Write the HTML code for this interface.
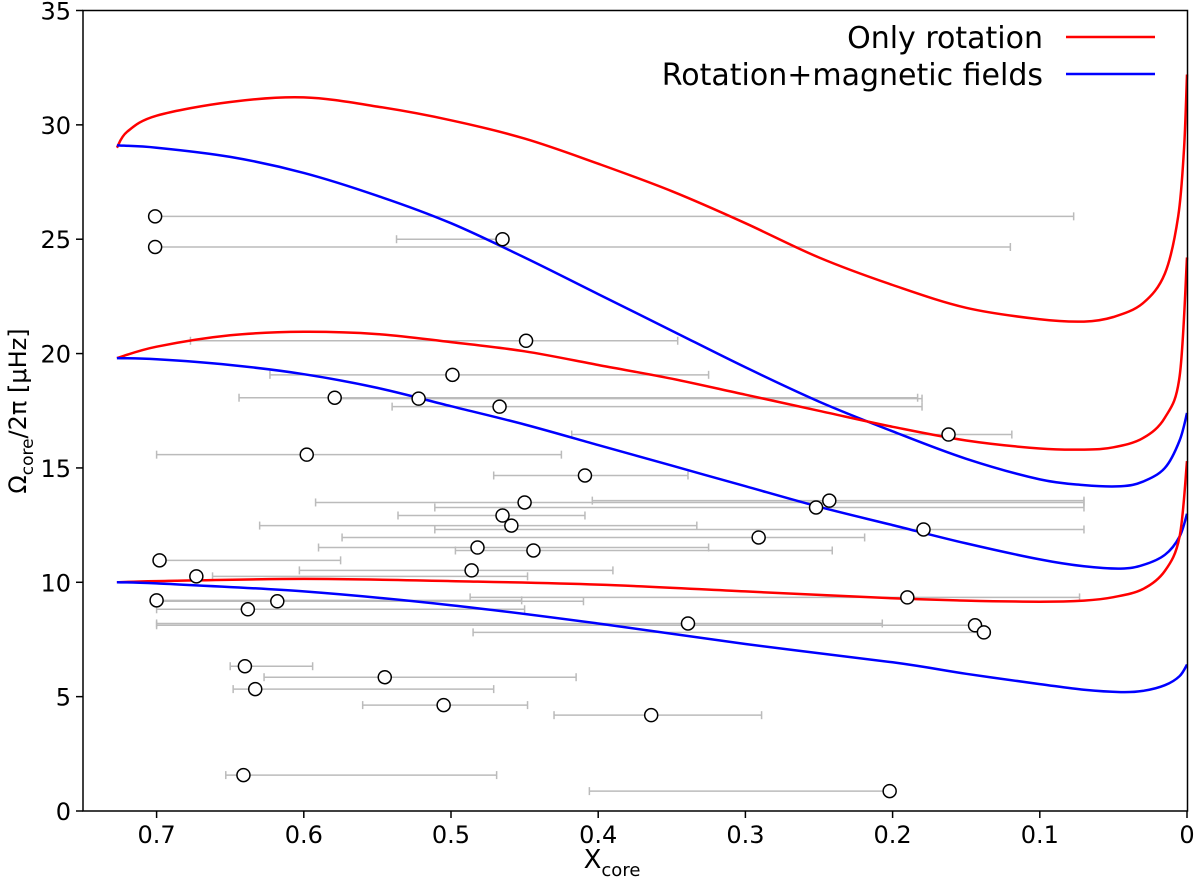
<!DOCTYPE html>
<html><head><meta charset="utf-8"><style>
body{margin:0;background:#fff;}
svg text{font-family:"DejaVu Sans","Liberation Sans",sans-serif;fill:#000;}
</style></head><body>
<svg id="chart" width="1200" height="890" viewBox="0 0 1200 890" xmlns="http://www.w3.org/2000/svg">
<g id="bars"></g>
<g id="curves"></g>
<g id="pts"></g>
<g id="axes"></g>
<g>
<text x="1043" y="48" font-size="30" text-anchor="end">Only rotation</text>
<line x1="1066" y1="37" x2="1155" y2="37" stroke="#f00" stroke-width="2.5"/>
<text x="1043" y="85" font-size="30" text-anchor="end">Rotation+magnetic fields</text>
<line x1="1066" y1="74" x2="1155" y2="74" stroke="#00f" stroke-width="2.5"/>
</g>
<text x="612" y="868" font-size="26" text-anchor="middle">X<tspan font-size="18" dy="8">core</tspan></text>
<text transform="translate(26,411) rotate(-90)" font-size="24" text-anchor="middle">Ω<tspan font-size="17" dy="7">core</tspan><tspan dy="-7">/2π [μHz]</tspan></text>
</svg>
<script>
const obsX=[0.701,0.701,0.465,0.449,0.499,0.579,0.522,0.467,0.162,0.598,0.409,0.45,0.243,0.252,0.465,0.459,0.179,0.291,0.482,0.444,0.698,0.486,0.673,0.19,0.70,0.618,0.638,0.339,0.144,0.138,0.64,0.545,0.633,0.505,0.364,0.641,0.202];
const obsY=[26.0,24.66,25.0,20.56,19.07,18.07,18.03,17.68,16.46,15.58,14.67,13.49,13.57,13.27,12.92,12.48,12.31,11.96,11.52,11.39,10.96,10.52,10.26,9.34,9.21,9.17,8.82,8.2,8.12,7.81,6.33,5.85,5.33,4.63,4.19,1.57,0.87];
const errLo=[0.701,0.701,0.537,0.677,0.623,0.644,0.58,0.54,0.418,0.70,0.471,0.592,0.404,0.511,0.536,0.63,0.511,0.574,0.59,0.497,0.698,0.603,0.662,0.487,0.70,0.70,0.70,0.70,0.70,0.485,0.65,0.627,0.648,0.56,0.43,0.653,0.406];
const errHi=[0.077,0.12,0.465,0.346,0.325,0.183,0.18,0.18,0.119,0.425,0.339,0.07,0.07,0.07,0.409,0.333,0.07,0.219,0.325,0.241,0.575,0.39,0.448,0.073,0.452,0.41,0.45,0.207,0.144,0.138,0.594,0.415,0.471,0.448,0.289,0.469,0.202];
const rTopX=[0.727,0.72,0.70,0.65,0.6,0.55,0.5,0.45,0.4,0.35,0.3,0.25,0.2,0.15,0.1,0.07,0.05,0.03,0.015,0.006,0.002,0];
const rTopY=[29.0,29.7,30.4,31.0,31.2,30.8,30.2,29.4,28.3,27.1,25.7,24.2,23.0,22.0,21.5,21.4,21.6,22.2,23.5,26,29,32.2];
const bTopX=[0.727,0.7,0.65,0.6,0.55,0.5,0.45,0.4,0.35,0.3,0.25,0.2,0.15,0.1,0.07,0.045,0.03,0.015,0.005,0];
const bTopY=[29.1,29.0,28.6,27.9,26.9,25.7,24.2,22.6,21.0,19.4,17.9,16.6,15.4,14.5,14.25,14.2,14.4,15.0,16.2,17.4];
const rMidX=[0.727,0.7,0.65,0.6,0.55,0.5,0.45,0.4,0.35,0.3,0.25,0.2,0.15,0.1,0.07,0.05,0.03,0.015,0.005,0];
const rMidY=[19.8,20.3,20.8,20.95,20.85,20.5,20.1,19.5,18.9,18.2,17.5,16.8,16.2,15.85,15.8,15.9,16.3,17.2,19,24.2];
const bMidX=[0.727,0.7,0.65,0.6,0.55,0.5,0.45,0.4,0.35,0.3,0.25,0.2,0.15,0.1,0.07,0.045,0.03,0.015,0.005,0];
const bMidY=[19.8,19.75,19.5,19.1,18.5,17.7,16.9,16.0,15.1,14.2,13.3,12.5,11.7,11.0,10.7,10.6,10.75,11.2,12.0,13.0];
const rLowX=[0.727,0.7,0.6,0.5,0.4,0.3,0.2,0.15,0.1,0.07,0.05,0.03,0.015,0.005,0];
const rLowY=[10.0,10.05,10.15,10.05,9.9,9.6,9.3,9.2,9.15,9.2,9.35,9.7,10.5,12,15.3];
const bLowX=[0.727,0.7,0.6,0.5,0.4,0.3,0.2,0.15,0.1,0.07,0.045,0.03,0.015,0.005,0];
const bLowY=[10.0,9.95,9.6,9.0,8.2,7.3,6.5,6.0,5.55,5.3,5.2,5.25,5.5,5.9,6.4];
const xTicks=[0.7,0.6,0.5,0.4,0.3,0.2,0.1,0];
const xTickLabels=["0.7","0.6","0.5","0.4","0.3","0.2","0.1","0"];
const yTicks=[0,5,10,15,20,25,30,35];
const yTickLabels=["0","5","10","15","20","25","30","35"];

const NS="http://www.w3.org/2000/svg";
const X0=83,X1=1187.5,Y0=811,Y1=10.5;
function sx(v){return 1187-(v)*1472;}
function sy(v){return Y0-v*(Y0-Y1)/35;}
function mk(tag,attrs,parent){const e=document.createElementNS(NS,tag);for(const k in attrs)e.setAttribute(k,attrs[k]);parent.appendChild(e);return e;}
const bars=document.getElementById('bars'),pts=document.getElementById('pts'),curves=document.getElementById('curves'),axes=document.getElementById('axes');
for(let i=0;i<obsX.length;i++){
  const y=sy(obsY[i]),a=sx(errLo[i]),b=sx(errHi[i]);
  const g=mk('g',{stroke:'#bbb','stroke-width':1.5},bars);
  
  
  mk('line',{x1:a,y1:y,x2:b,y2:y},g);
  mk('line',{x1:a,y1:y-4,x2:a,y2:y+4},g);
  mk('line',{x1:b,y1:y-4,x2:b,y2:y+4},g);
  const c=mk('circle',{cx:sx(obsX[i]),cy:y,r:6.5,fill:'#fff',stroke:'#000','stroke-width':1.5},pts);
  
  
}
function curve(xs,ys,col,name){
  const P=xs.map((v,i)=>[sx(v),sy(ys[i])]);
  let d='M'+P[0][0].toFixed(1)+','+P[0][1].toFixed(1);
  for(let i=0;i<P.length-1;i++){
    const p0=P[Math.max(0,i-1)],p1=P[i],p2=P[i+1],p3=P[Math.min(P.length-1,i+2)];
    const c1=[p1[0]+(p2[0]-p0[0])/6,p1[1]+(p2[1]-p0[1])/6];
    const c2=[p2[0]-(p3[0]-p1[0])/6,p2[1]-(p3[1]-p1[1])/6];
    d+=' C'+c1.map(n=>n.toFixed(1)).join(',')+' '+c2.map(n=>n.toFixed(1)).join(',')+' '+p2[0].toFixed(1)+','+p2[1].toFixed(1);
  }
  const p=mk('path',{d:d,fill:'none',stroke:col,'stroke-width':2.5,'stroke-linejoin':'round'},curves);
  
  
}
curve(rTopX,rTopY,'#f00','rotation-curve-top');
curve(bTopX,bTopY,'#00f','magnetic-curve-top');
curve(rMidX,rMidY,'#f00','rotation-curve-mid');
curve(bMidX,bMidY,'#00f','magnetic-curve-mid');
curve(rLowX,rLowY,'#f00','rotation-curve-low');
curve(bLowX,bLowY,'#00f','magnetic-curve-low');
const fr=mk('rect',{x:X0,y:Y1,width:X1-X0,height:Y0-Y1,fill:'none',stroke:'#000','stroke-width':1.5},axes);


xTicks.forEach((v,i)=>{
  mk('line',{x1:sx(v),y1:Y0,x2:sx(v),y2:Y0+7,stroke:'#000','stroke-width':1.5},axes);
  const t=mk('text',{x:sx(v),y:Y0+32,'font-size':24,'text-anchor':'middle'},axes);t.textContent=xTickLabels[i];
  
  
});
yTicks.forEach((v,i)=>{
  mk('line',{x1:X0-7,y1:sy(v),x2:X0,y2:sy(v),stroke:'#000','stroke-width':1.5},axes);
  const t=mk('text',{x:X0-12,y:sy(v)+9,'font-size':24,'text-anchor':'end'},axes);t.textContent=yTickLabels[i];
  
  
});
</script>
</body></html>
